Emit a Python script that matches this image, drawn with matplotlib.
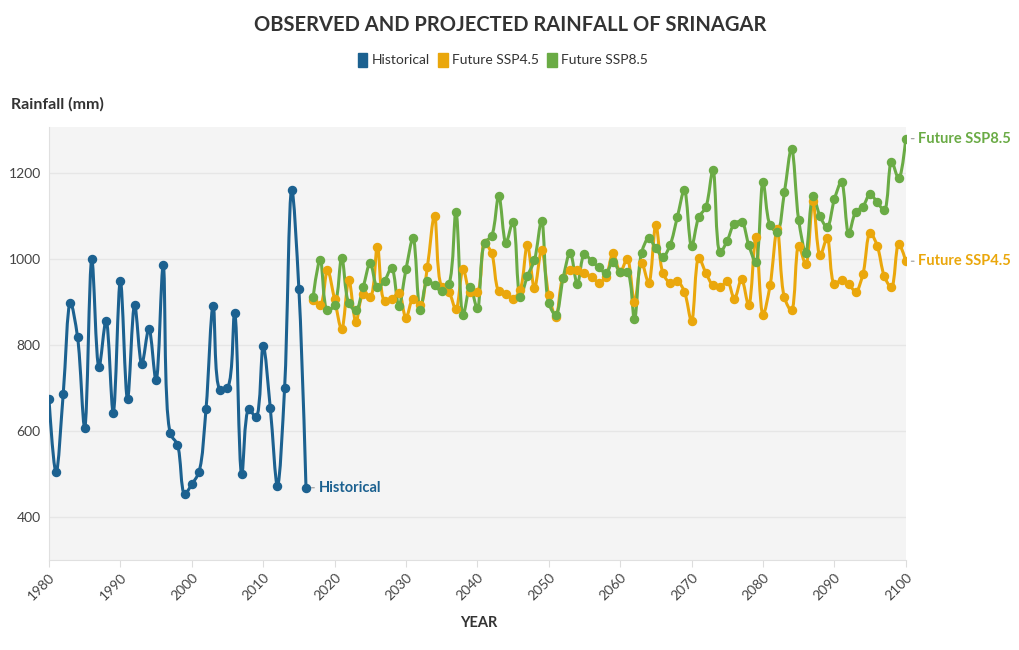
import numpy as np
import matplotlib
matplotlib.use("Agg")
import matplotlib.pyplot as plt
from matplotlib.path import Path
from matplotlib.patches import PathPatch, Patch

# data
hist_years = list(range(1980, 2017))
hist_rain = [675, 504, 687, 898, 819, 608, 999, 749, 857, 643,
             950, 674, 893, 756, 838, 718, 985, 595, 568, 454,
             476, 505, 652, 891, 695, 701, 874, 499, 651, 632,
             797, 653, 473, 699, 1161, 931, 468]

fut_years = list(range(2017, 2101))
ssp45 = [904, 893, 974, 906, 837, 951, 854, 918, 912, 1029,
         903, 906, 922, 863, 908, 893, 982, 1101, 936, 924,
         883, 976, 924, 924, 1037, 1013, 926, 918, 908, 929,
         1033, 932, 1021, 916, 866, 957, 974, 974, 967, 959,
         945, 959, 1013, 970, 1000, 900, 991, 945, 1079, 967,
         945, 949, 924, 856, 1002, 968, 939, 934, 949, 908,
         953, 893, 1051, 871, 939, 1070, 911, 881, 1030, 988,
         1134, 1009, 1048, 943, 951, 942, 924, 965, 1061, 1031,
         960, 934, 1035, 995]
ssp85 = [912, 998, 881, 893, 1003, 897, 881, 934, 990, 934,
         949, 980, 891, 976, 1048, 881, 949, 939, 925, 942,
         1109, 870, 936, 885, 1037, 1054, 1147, 1038, 1087, 912,
         960, 998, 1089, 898, 870, 955, 1015, 942, 1012, 995,
         981, 967, 994, 970, 970, 861, 1015, 1048, 1025, 1005,
         1033, 1097, 1160, 1030, 1097, 1121, 1206, 1016, 1043, 1082,
         1087, 1033, 993, 1179, 1079, 1064, 1155, 1257, 1091, 1015,
         1147, 1099, 1074, 1139, 1179, 1060, 1110, 1122, 1151, 1132,
         1114, 1226, 1188, 1280]

series_names = ["Historical", "Future SSP4.5", "Future SSP8.5"]
colors = ["#1c6190", "#eaa70c", "#6aab45"]
xticks = list(range(1980, 2101, 10))
yticks = [400, 600, 800, 1000, 1200]

plt.rcParams["font.family"] = ["Lato", "DejaVu Sans"]


def spline_path(ax, xs, ys, smooth=1.0):
    # centripetal catmull-rom in screen space, the way plotly draws 'spline' lines
    tr = ax.transData
    p = tr.transform(np.column_stack([xs, ys]).astype(float))
    n = len(p)
    tang = []
    for i in range(1, n - 1):
        d1 = p[i - 1] - p[i]
        d2 = p[i + 1] - p[i]
        a1 = np.hypot(*d1) ** 0.5
        a2 = np.hypot(*d2) ** 0.5
        num = (a2 * a2 * d1 - a1 * a1 * d2) * smooth
        den1 = 3 * a2 * (a1 + a2)
        den2 = 3 * a1 * (a1 + a2)
        tang.append((p[i] + num / den1, p[i] - num / den2))
    verts = [p[0]]
    codes = [Path.MOVETO]
    # first piece: quadratic -> cubic
    q = tang[0][0]
    verts += [p[0] + 2 / 3 * (q - p[0]), p[1] + 2 / 3 * (q - p[1]), p[1]]
    for i in range(1, n - 2):
        verts += [tang[i - 1][1], tang[i][0], p[i + 1]]
    q = tang[-1][1]
    verts += [p[-2] + 2 / 3 * (q - p[-2]), p[-1] + 2 / 3 * (q - p[-1]), p[-1]]
    codes += [Path.CURVE4] * (len(verts) - 1)
    verts = tr.inverted().transform(np.array(verts))
    return Path(verts, codes)


fig = plt.figure(figsize=(10.2, 6.5), dpi=100)
ax = fig.add_axes([0.048, 0.1385, 0.840, 0.666])
ax.set_facecolor("#f4f4f4")
ax.set_xlim(1980, 2100)
ax.set_ylim(300, 1307)

data = [(hist_years, hist_rain), (fut_years, ssp45), (fut_years, ssp85)]
for (xs, ys), c in zip(data, colors):
    ax.add_patch(PathPatch(spline_path(ax, xs, ys), fill=False, edgecolor=c,
                           lw=2.2, zorder=3, capstyle="round", joinstyle="round"))
    ax.plot(xs, ys, linestyle="none", marker="o", ms=5.8, color=c, zorder=4)

ax.set_xticks(xticks)
ax.set_yticks(yticks)
ax.grid(axis="y", color="#e6e6e6", lw=1)
ax.set_axisbelow(True)
for s in ["top", "right"]:
    ax.spines[s].set_visible(False)
ax.spines["left"].set_color("#e0e0e0")
ax.spines["bottom"].set_color("#e0e0e0")
ax.tick_params(axis="y", length=0, labelsize=10, labelcolor="#444444", pad=6)
ax.tick_params(axis="x", length=5, color="#dddddd", labelsize=10,
               labelcolor="#444444", pad=3)
for lab in ax.get_xticklabels():
    lab.set_rotation(45)
    lab.set_ha("right")
    lab.set_va("top")
    lab.set_rotation_mode("anchor")

# end-of-line labels
for (xs, ys), c, name in zip(data, colors, series_names):
    ax.annotate(name, xy=(xs[-1], ys[-1]), xytext=(9, 0), textcoords="offset points",
                color=c, fontsize=10.5, fontweight="bold", va="center", ha="left",
                annotation_clip=False,
                arrowprops=dict(arrowstyle="-", color="#999999", lw=0.8,
                                shrinkA=1, shrinkB=4))

fig.text(0.5, 0.962, "OBSERVED AND PROJECTED RAINFALL OF SRINAGAR",
         ha="center", va="center", fontsize=14.5, fontweight="bold", color="#333333")
fig.text(0.011, 0.84, "Rainfall (mm)", ha="left", va="center",
         fontsize=11.5, fontweight="bold", color="#333333")
fig.text(0.469, 0.042, "YEAR", ha="center", va="center",
         fontsize=10.5, fontweight="bold", color="#333333")

handles = [Patch(facecolor=c, edgecolor=c) for c in colors]
fig.legend(handles, series_names, loc="center", bbox_to_anchor=(0.493, 0.908),
           ncol=3, frameon=False, fontsize=10, handlelength=0.7, handleheight=1.2,
           handletextpad=0.3, columnspacing=0.6, labelcolor="#333333")

fig.savefig("out.png", dpi=100)
